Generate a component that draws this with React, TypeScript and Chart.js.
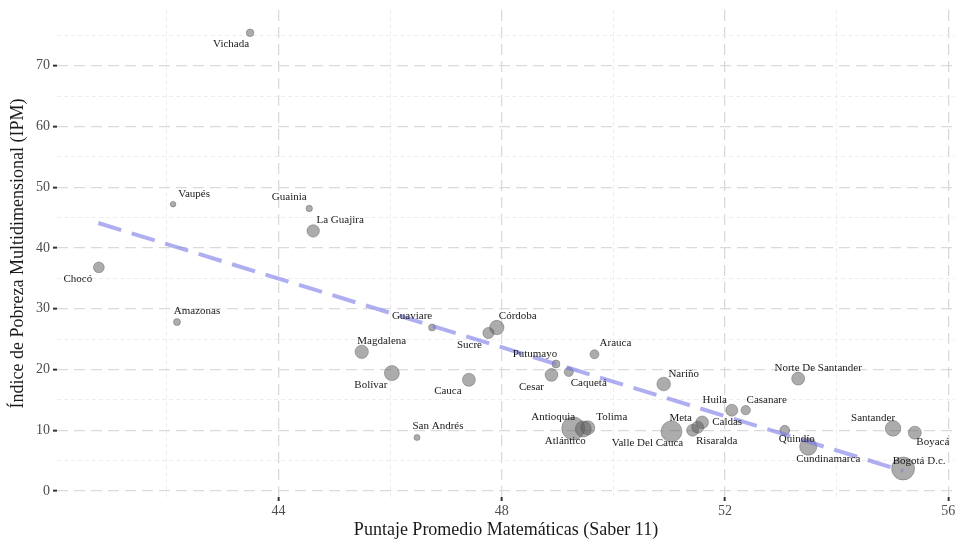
import React, { useEffect, useRef } from 'react';
import { Chart, registerables } from 'chart.js';

Chart.register(...registerables);

// ---- Data ----
const departments = [
  'Vichada', 'Vaupés', 'Guainia', 'La Guajira', 'Chocó', 'Amazonas', 'Guaviare', 'Córdoba',
  'Sucre', 'Magdalena', 'Bolívar', 'Cauca', 'Putumayo', 'Cesar', 'Caquetá', 'Arauca',
  'Antioquia', 'Atlántico', 'Tolima', 'San Andrés', 'Nariño', 'Norte De Santander', 'Huila',
  'Casanare', 'Meta', 'Risaralda', 'Caldas', 'Valle Del Cauca', 'Quindío', 'Cundinamarca',
  'Santander', 'Boyacá', 'Bogotá D.c.',
];
const mathScore = [
  43.49, 42.11, 44.55, 44.62, 40.78, 42.18, 46.75, 47.91,
  47.76, 45.49, 46.03, 47.41, 48.97, 48.89, 49.20, 49.66,
  49.28, 49.46, 49.54, 46.48, 50.90, 53.31, 52.12,
  52.37, 51.42, 51.51, 51.59, 51.04, 53.07, 53.49,
  55.01, 55.40, 55.19,
];
const ipmValue = [
  75.4, 47.2, 46.5, 42.8, 36.8, 27.8, 26.9, 26.9,
  26.0, 22.9, 19.4, 18.3, 20.9, 19.1, 19.6, 22.5,
  10.3, 10.2, 10.4, 8.8, 17.6, 18.5, 13.3,
  13.3, 10.0, 10.5, 11.3, 9.8, 10.0, 7.3,
  10.3, 9.6, 3.7,
];
// bubble size (population-like weight, expressed as radius)
const bubbleSize = [
  3.8, 2.8, 3.2, 6.2, 5.4, 3.5, 3.5, 7.2,
  5.6, 6.7, 7.5, 6.5, 4.0, 6.4, 4.6, 4.5,
  11.5, 8.0, 7.0, 3.0, 6.8, 6.5, 6.0,
  4.7, 6.0, 6.0, 6.3, 10.5, 4.9, 8.6,
  7.8, 6.5, 11.5,
];
const trendX = [40.77, 55.19];
const trendY = [44.1, 3.3];
const xTickLabels = [44, 48, 52, 56];
const xMinorTicks = [42, 46, 50, 54];
const yTickLabels = [0, 10, 20, 30, 40, 50, 60, 70];
const yMinorTicks = [5, 15, 25, 35, 45, 55, 65, 75];

// label placement relative to each bubble (pixels)
const labelOffsets: Record<string, [number, number]> = {
  'Vichada': [-19, 11], 'Vaupés': [21, -10], 'Guainia': [-20, -11], 'La Guajira': [27, -11],
  'Chocó': [-21, 12], 'Amazonas': [20, -11], 'Guaviare': [-20, -11], 'Córdoba': [21, -11],
  'Sucre': [-19, 12], 'Magdalena': [20, -11], 'Bolívar': [-21, 12], 'Cauca': [-21, 11],
  'Putumayo': [-21, -10], 'Cesar': [-20, 12], 'Caquetá': [20, 11], 'Arauca': [21, -11],
  'Antioquia': [-20, -11], 'Atlántico': [-18, 12], 'Tolima': [24, -11], 'San Andrés': [21, -11],
  'Nariño': [20, -10], 'Norte De Santander': [20, -10], 'Huila': [-17, -10], 'Casanare': [21, -10],
  'Meta': [-12, -12], 'Risaralda': [19, 14], 'Caldas': [25, 0], 'Valle Del Cauca': [-24, 12],
  'Quindío': [12, 9], 'Cundinamarca': [20, 12], 'Santander': [-20, -10], 'Boyacá': [18, 9],
  'Bogotá D.c.': [16, -7],
};

const SERIF = '"Liberation Serif", "Times New Roman", serif';

export default function App() {
  const ref = useRef<HTMLCanvasElement>(null);

  useEffect(() => {
    document.body.style.margin = '0';
    const canvas = ref.current;
    if (!canvas) return;

    const labelPlugin = {
      id: 'deptLabels',
      afterDatasetsDraw(chart: any) {
        const meta = chart.getDatasetMeta(1);
        const c = chart.ctx;
        c.save();
        c.font = `11px ${SERIF}`;
        c.fillStyle = '#1a1a1a';
        c.textAlign = 'center';
        c.textBaseline = 'middle';
        meta.data.forEach((el: any, i: number) => {
          const name = departments[i];
          const [dx, dy] = labelOffsets[name] || [0, -10];
          c.fillText(name, el.x + dx, el.y + dy);
        });
        c.restore();
      },
    };

    const isMajor = (scaleId: string, v: number) =>
      scaleId === 'x' ? xTickLabels.includes(v) : yTickLabels.includes(v);

    const gridOpts = (id: string) => ({
      color: (ctx: any) => (ctx.tick && isMajor(id, ctx.tick.value) ? '#dadada' : '#ebebeb'),
      lineWidth: (ctx: any) => (ctx.tick && isMajor(id, ctx.tick.value) ? 1.3 : 0.9),
      tickColor: '#333333',
      tickWidth: (ctx: any) => (ctx.tick && isMajor(id, ctx.tick.value) ? 2 : 0),
      tickLength: 4,
      drawTicks: true,
    });
    const borderOpts = (id: string) => ({
      display: false,
      dash: (ctx: any) => (ctx.tick && isMajor(id, ctx.tick.value) ? [11, 6] : [4, 3]),
    });

    const chart = new Chart(canvas, {
      type: 'scatter',
      data: {
        datasets: [
          {
            type: 'line',
            label: 'Tendencia',
            data: trendX.map((x, i) => ({ x, y: trendY[i] })),
            borderColor: 'rgba(120,120,230,0.6)',
            borderWidth: 4,
            borderDash: [24, 11],
            pointRadius: 0,
            fill: false,
            showLine: true,
          } as any,
          {
            type: 'scatter',
            label: 'Departamentos',
            data: mathScore.map((x, i) => ({ x, y: ipmValue[i] })),
            backgroundColor: 'rgba(90,90,90,0.5)',
            borderColor: 'rgba(70,70,70,0.45)',
            borderWidth: 0.8,
            pointRadius: bubbleSize,
            pointHoverRadius: bubbleSize,
          } as any,
        ],
      },
      options: {
        responsive: false,
        animation: false,
        events: [],
        layout: { padding: { top: 10, right: 2, left: 0, bottom: 0 } },
        plugins: {
          legend: { display: false },
          tooltip: { enabled: false },
          title: { display: false },
        },
        scales: {
          x: {
            type: 'linear',
            min: 40.03,
            max: 56.12,
            afterBuildTicks: (scale: any) => {
              scale.ticks = [...xMinorTicks, ...xTickLabels]
                .sort((a, b) => a - b)
                .map((v) => ({ value: v }));
            },
            afterFit: (scale: any) => {
              scale.height = 45;
              scale.paddingLeft = 0;
              scale.paddingRight = 0;
            },
            ticks: {
              autoSkip: false,
              maxRotation: 0,
              padding: 2,
              color: '#4d4d4d',
              font: { family: SERIF, size: 14 },
              callback: (v: any) => (xTickLabels.includes(Number(v)) ? String(v) : ''),
            },
            grid: gridOpts('x') as any,
            border: borderOpts('x') as any,
            title: {
              display: true,
              text: 'Puntaje Promedio Matemáticas (Saber 11)',
              color: '#1a1a1a',
              font: { family: SERIF, size: 18 },
              padding: { top: 0, bottom: 1 },
            },
          },
          y: {
            type: 'linear',
            min: -0.99,
            max: 79.16,
            afterBuildTicks: (scale: any) => {
              scale.ticks = [...yTickLabels, ...yMinorTicks]
                .sort((a, b) => a - b)
                .map((v) => ({ value: v }));
            },
            afterFit: (scale: any) => {
              scale.width = 57;
              scale.paddingTop = 0;
              scale.paddingBottom = 0;
            },
            ticks: {
              autoSkip: false,
              padding: 3,
              color: '#4d4d4d',
              font: { family: SERIF, size: 14 },
              callback: (v: any) => (yTickLabels.includes(Number(v)) ? String(v) : ''),
            },
            grid: gridOpts('y') as any,
            border: borderOpts('y') as any,
            title: {
              display: true,
              text: 'Índice de Pobreza Multidimensional (IPM)',
              color: '#1a1a1a',
              font: { family: SERIF, size: 18 },
              padding: { top: 7, bottom: 0 },
            },
          },
        },
      } as any,
      plugins: [labelPlugin],
    });

    // The bubbles would otherwise reserve extra padding around the plot area
    // (Chart.js "max overflow"); the reference plot runs to the canvas edge.
    chart.data.datasets.forEach((_d: any, i: number) => {
      const ctrl: any = chart.getDatasetMeta(i).controller;
      if (ctrl) ctrl.getMaxOverflow = () => 0;
    });
    chart.update('none');

    return () => chart.destroy();
  }, []);

  return <canvas ref={ref} width={957} height={542} style={{ display: 'block' }} />;
}
